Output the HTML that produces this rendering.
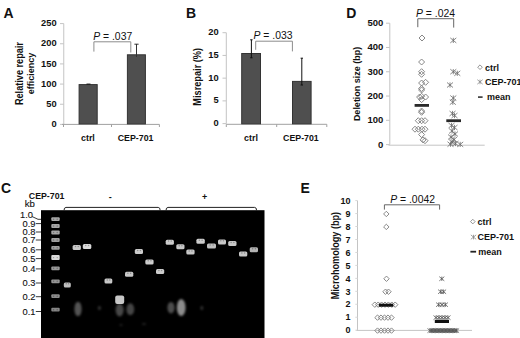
<!DOCTYPE html>
<html><head><meta charset="utf-8"><style>
html,body{margin:0;padding:0;background:#fff;width:520px;height:338px;overflow:hidden}
svg{display:block;font-family:"Liberation Sans",sans-serif}
</style></head><body>
<svg width="520" height="338" viewBox="0 0 520 338">
<defs>
<filter id="blur" x="-50%" y="-50%" width="200%" height="200%"><feGaussianBlur stdDeviation="0.7"/></filter>
<filter id="blur2" x="-100%" y="-100%" width="300%" height="300%"><feGaussianBlur stdDeviation="1.2"/></filter>
</defs>
<text transform="translate(3.5,17.6) scale(1,1.1)" font-size="14" font-weight="bold" text-anchor="start" fill="#111" >A</text>
<line x1="63.75" y1="23.6" x2="63.75" y2="124.4" stroke="#c4c4c4" stroke-width="1"/>
<line x1="60" y1="124.4" x2="63.75" y2="124.4" stroke="#c4c4c4" stroke-width="1"/>
<text transform="translate(56.6,127.0) scale(1,1.0)" font-size="9.3" font-weight="bold" text-anchor="end" fill="#111" >0</text>
<line x1="60" y1="104.24000000000001" x2="63.75" y2="104.24000000000001" stroke="#c4c4c4" stroke-width="1"/>
<text transform="translate(56.6,106.84) scale(1,1.0)" font-size="9.3" font-weight="bold" text-anchor="end" fill="#111" >50</text>
<line x1="60" y1="84.08" x2="63.75" y2="84.08" stroke="#c4c4c4" stroke-width="1"/>
<text transform="translate(56.6,86.67999999999999) scale(1,1.0)" font-size="9.3" font-weight="bold" text-anchor="end" fill="#111" >100</text>
<line x1="60" y1="63.919999999999995" x2="63.75" y2="63.919999999999995" stroke="#c4c4c4" stroke-width="1"/>
<text transform="translate(56.6,66.52) scale(1,1.0)" font-size="9.3" font-weight="bold" text-anchor="end" fill="#111" >150</text>
<line x1="60" y1="43.75999999999999" x2="63.75" y2="43.75999999999999" stroke="#c4c4c4" stroke-width="1"/>
<text transform="translate(56.6,46.35999999999999) scale(1,1.0)" font-size="9.3" font-weight="bold" text-anchor="end" fill="#111" >200</text>
<line x1="60" y1="23.599999999999994" x2="63.75" y2="23.599999999999994" stroke="#c4c4c4" stroke-width="1"/>
<text transform="translate(56.6,26.199999999999996) scale(1,1.0)" font-size="9.3" font-weight="bold" text-anchor="end" fill="#111" >250</text>
<line x1="62" y1="124.4" x2="159.4" y2="124.4" stroke="#a0a0a0" stroke-width="1"/>
<line x1="63.5" y1="124.4" x2="63.5" y2="127" stroke="#a0a0a0" stroke-width="1"/>
<line x1="111.5" y1="124.4" x2="111.5" y2="127" stroke="#a0a0a0" stroke-width="1"/>
<line x1="159.4" y1="124.4" x2="159.4" y2="127" stroke="#a0a0a0" stroke-width="1"/>
<rect x="79.1" y="84.6" width="18.1" height="39.30000000000001" fill="#4f4f4f" stroke="#333" stroke-width="1"/>
<line x1="86.5" y1="84.1" x2="90.5" y2="84.1" stroke="#111" stroke-width="1"/>
<rect x="127.4" y="54.8" width="18.0" height="69.10000000000001" fill="#4f4f4f" stroke="#333" stroke-width="1"/>
<line x1="136.5" y1="44" x2="136.5" y2="57" stroke="#333" stroke-width="1"/>
<line x1="134.4" y1="44.2" x2="138.6" y2="44.2" stroke="#333" stroke-width="1"/>
<path d="M93.9 51.6 V41.8 H130.8 V52.5" fill="none" stroke="#8c8c8c" stroke-width="1"/>
<text transform="translate(93.2,39.5) scale(1,1.0)" font-size="10.4" fill="#111" ><tspan font-style="italic">P</tspan> = .037</text>
<text transform="translate(87.9,141.0) scale(1,1.0)" font-size="8.9" font-weight="bold" text-anchor="middle" fill="#111" >ctrl</text>
<text transform="translate(135.6,141.0) scale(1,1.0)" font-size="8.8" font-weight="bold" text-anchor="middle" fill="#111" >CEP-701</text>
<text x="0" y="0" font-size="9.15" font-weight="bold" text-anchor="middle" fill="#111" transform="translate(22.6,73.6) rotate(-90) scale(1,1.1)">Relative repair</text>
<text x="0" y="0" font-size="9" font-weight="bold" text-anchor="middle" fill="#111" transform="translate(33.6,73.5) rotate(-90) scale(1,1.1)">efficiency</text>
<text transform="translate(186.0,18.3) scale(1,1.1)" font-size="14" font-weight="bold" text-anchor="start" fill="#111" >B</text>
<line x1="226.3" y1="32.7" x2="226.3" y2="123.6" stroke="#c4c4c4" stroke-width="1"/>
<line x1="222.5" y1="123.6" x2="226.3" y2="123.6" stroke="#c4c4c4" stroke-width="1"/>
<text transform="translate(218.7,126.19999999999999) scale(1,1.0)" font-size="9.3" font-weight="bold" text-anchor="end" fill="#111" >0</text>
<line x1="222.5" y1="100.875" x2="226.3" y2="100.875" stroke="#c4c4c4" stroke-width="1"/>
<text transform="translate(218.7,103.475) scale(1,1.0)" font-size="9.3" font-weight="bold" text-anchor="end" fill="#111" >5</text>
<line x1="222.5" y1="78.15" x2="226.3" y2="78.15" stroke="#c4c4c4" stroke-width="1"/>
<text transform="translate(218.7,80.75) scale(1,1.0)" font-size="9.3" font-weight="bold" text-anchor="end" fill="#111" >10</text>
<line x1="222.5" y1="55.425" x2="226.3" y2="55.425" stroke="#c4c4c4" stroke-width="1"/>
<text transform="translate(218.7,58.025) scale(1,1.0)" font-size="9.3" font-weight="bold" text-anchor="end" fill="#111" >15</text>
<line x1="222.5" y1="32.7" x2="226.3" y2="32.7" stroke="#c4c4c4" stroke-width="1"/>
<text transform="translate(218.7,35.300000000000004) scale(1,1.0)" font-size="9.3" font-weight="bold" text-anchor="end" fill="#111" >20</text>
<line x1="226.3" y1="124.3" x2="326.8" y2="124.3" stroke="#a0a0a0" stroke-width="1"/>
<line x1="226.3" y1="124.3" x2="226.3" y2="127" stroke="#a0a0a0" stroke-width="1"/>
<line x1="276.7" y1="124.3" x2="276.7" y2="127" stroke="#a0a0a0" stroke-width="1"/>
<line x1="326.8" y1="124.3" x2="326.8" y2="127" stroke="#a0a0a0" stroke-width="1"/>
<rect x="241.7" y="53.5" width="18.8" height="70.3" fill="#4f4f4f" stroke="#333" stroke-width="1"/>
<rect x="292.5" y="81.4" width="18.6" height="42.39999999999999" fill="#4f4f4f" stroke="#333" stroke-width="1"/>
<line x1="251.4" y1="39.8" x2="251.4" y2="57.8" stroke="#111" stroke-width="1"/>
<line x1="250.2" y1="39.8" x2="252.6" y2="39.8" stroke="#111" stroke-width="1"/>
<line x1="250.2" y1="57.8" x2="252.6" y2="57.8" stroke="#111" stroke-width="1"/>
<line x1="301.8" y1="58.2" x2="301.8" y2="85" stroke="#111" stroke-width="1"/>
<line x1="300.6" y1="58.2" x2="303.0" y2="58.2" stroke="#111" stroke-width="1"/>
<line x1="300.6" y1="85" x2="303.0" y2="85" stroke="#111" stroke-width="1"/>
<path d="M255.7 49.8 V41.2 H292.4 V51.4" fill="none" stroke="#8c8c8c" stroke-width="1"/>
<text transform="translate(253.5,39.0) scale(1,1.0)" font-size="10.4" fill="#111" ><tspan font-style="italic">P</tspan> = .033</text>
<text transform="translate(251.0,141.1) scale(1,1.0)" font-size="8.9" font-weight="bold" text-anchor="middle" fill="#111" >ctrl</text>
<text transform="translate(300.9,141.1) scale(1,1.0)" font-size="8.8" font-weight="bold" text-anchor="middle" fill="#111" >CEP-701</text>
<text x="0" y="0" font-size="9.2" font-weight="bold" text-anchor="middle" fill="#111" transform="translate(200.5,76.8) rotate(-90) scale(1,1.1)">Misrepair (%)</text>
<text transform="translate(346.3,17.8) scale(1,1.1)" font-size="14" font-weight="bold" text-anchor="start" fill="#111" >D</text>
<line x1="389.8" y1="23.2" x2="389.8" y2="144.6" stroke="#c4c4c4" stroke-width="1"/>
<line x1="386" y1="144.6" x2="389.8" y2="144.6" stroke="#c4c4c4" stroke-width="1"/>
<text transform="translate(383.3,147.5) scale(1,1.0)" font-size="9.5" font-weight="bold" text-anchor="end" fill="#111" >0</text>
<line x1="386" y1="120.32" x2="389.8" y2="120.32" stroke="#c4c4c4" stroke-width="1"/>
<text transform="translate(383.3,123.22) scale(1,1.0)" font-size="9.5" font-weight="bold" text-anchor="end" fill="#111" >100</text>
<line x1="386" y1="96.03999999999999" x2="389.8" y2="96.03999999999999" stroke="#c4c4c4" stroke-width="1"/>
<text transform="translate(383.3,98.94) scale(1,1.0)" font-size="9.5" font-weight="bold" text-anchor="end" fill="#111" >200</text>
<line x1="386" y1="71.76" x2="389.8" y2="71.76" stroke="#c4c4c4" stroke-width="1"/>
<text transform="translate(383.3,74.66000000000001) scale(1,1.0)" font-size="9.5" font-weight="bold" text-anchor="end" fill="#111" >300</text>
<line x1="386" y1="47.480000000000004" x2="389.8" y2="47.480000000000004" stroke="#c4c4c4" stroke-width="1"/>
<text transform="translate(383.3,50.38) scale(1,1.0)" font-size="9.5" font-weight="bold" text-anchor="end" fill="#111" >400</text>
<line x1="386" y1="23.200000000000003" x2="389.8" y2="23.200000000000003" stroke="#c4c4c4" stroke-width="1"/>
<text transform="translate(383.3,26.1) scale(1,1.0)" font-size="9.5" font-weight="bold" text-anchor="end" fill="#111" >500</text>
<line x1="388.5" y1="145.2" x2="484.7" y2="145.2" stroke="#c4c4c4" stroke-width="1"/>
<path d="M417.8 27.2 V18.7 H453.7 V27.6" fill="none" stroke="#666" stroke-width="1"/>
<text transform="translate(416.0,17.2) scale(1,1.0)" font-size="10.4" fill="#111" ><tspan font-style="italic">P</tspan> = .024</text>
<text x="0" y="0" font-size="9.0" font-weight="bold" text-anchor="middle" fill="#111" transform="translate(360.3,83.9) rotate(-90) scale(1,1.1)">Deletion size (bp)</text>
<path d="M422 35.0 L425.0 38 L422 41.0 L419.0 38 Z" fill="none" stroke="#7a7a7a" stroke-width="0.9"/>
<path d="M421.6 59.0 L424.6 62 L421.6 65.0 L418.6 62 Z" fill="none" stroke="#7a7a7a" stroke-width="0.9"/>
<path d="M421.6 68.7 L424.6 71.7 L421.6 74.7 L418.6 71.7 Z" fill="none" stroke="#7a7a7a" stroke-width="0.9"/>
<path d="M421.6 71.3 L424.6 74.3 L421.6 77.3 L418.6 74.3 Z" fill="none" stroke="#7a7a7a" stroke-width="0.9"/>
<path d="M421.6 80.0 L424.6 83 L421.6 86.0 L418.6 83 Z" fill="none" stroke="#7a7a7a" stroke-width="0.9"/>
<path d="M425.6 79.3 L428.6 82.3 L425.6 85.3 L422.6 82.3 Z" fill="none" stroke="#7a7a7a" stroke-width="0.9"/>
<path d="M421.6 85.5 L424.6 88.5 L421.6 91.5 L418.6 88.5 Z" fill="none" stroke="#7a7a7a" stroke-width="0.9"/>
<path d="M421.6 87.0 L424.6 90 L421.6 93.0 L418.6 90 Z" fill="none" stroke="#7a7a7a" stroke-width="0.9"/>
<path d="M419.6 94.0 L422.6 97 L419.6 100.0 L416.6 97 Z" fill="none" stroke="#7a7a7a" stroke-width="0.9"/>
<path d="M425.6 94.0 L428.6 97 L425.6 100.0 L422.6 97 Z" fill="none" stroke="#7a7a7a" stroke-width="0.9"/>
<path d="M421.6 93.3 L424.6 96.3 L421.6 99.3 L418.6 96.3 Z" fill="none" stroke="#7a7a7a" stroke-width="0.9"/>
<path d="M421.6 96.6 L424.6 99.6 L421.6 102.6 L418.6 99.6 Z" fill="none" stroke="#7a7a7a" stroke-width="0.9"/>
<path d="M421.6 108.0 L424.6 111 L421.6 114.0 L418.6 111 Z" fill="none" stroke="#7a7a7a" stroke-width="0.9"/>
<path d="M421.6 109.3 L424.6 112.3 L421.6 115.3 L418.6 112.3 Z" fill="none" stroke="#7a7a7a" stroke-width="0.9"/>
<path d="M418.3 117.7 L421.3 120.7 L418.3 123.7 L415.3 120.7 Z" fill="none" stroke="#7a7a7a" stroke-width="0.9"/>
<path d="M421.6 117.7 L424.6 120.7 L421.6 123.7 L418.6 120.7 Z" fill="none" stroke="#7a7a7a" stroke-width="0.9"/>
<path d="M425 117.7 L428.0 120.7 L425 123.7 L422.0 120.7 Z" fill="none" stroke="#7a7a7a" stroke-width="0.9"/>
<path d="M415 126.19999999999999 L418.0 129.2 L415 132.2 L412.0 129.2 Z" fill="none" stroke="#7a7a7a" stroke-width="0.9"/>
<path d="M418.3 126.19999999999999 L421.3 129.2 L418.3 132.2 L415.3 129.2 Z" fill="none" stroke="#7a7a7a" stroke-width="0.9"/>
<path d="M422 126.19999999999999 L425.0 129.2 L422 132.2 L419.0 129.2 Z" fill="none" stroke="#7a7a7a" stroke-width="0.9"/>
<path d="M425 126.19999999999999 L428.0 129.2 L425 132.2 L422.0 129.2 Z" fill="none" stroke="#7a7a7a" stroke-width="0.9"/>
<path d="M421.6 131.6 L424.6 134.6 L421.6 137.6 L418.6 134.6 Z" fill="none" stroke="#7a7a7a" stroke-width="0.9"/>
<path d="M423 136.9 L426.0 139.9 L423 142.9 L420.0 139.9 Z" fill="none" stroke="#7a7a7a" stroke-width="0.9"/>
<path d="M425 137.7 L428.0 140.7 L425 143.7 L422.0 140.7 Z" fill="none" stroke="#7a7a7a" stroke-width="0.9"/>
<path d="M453.3 37.8 V43.0 M450.3 37.9 L456.3 42.9 M450.3 42.9 L456.3 37.9" stroke="#6a6a6a" stroke-width="0.8" fill="none"/>
<path d="M453.3 69.10000000000001 V74.3 M450.3 69.2 L456.3 74.2 M450.3 74.2 L456.3 69.2" stroke="#6a6a6a" stroke-width="0.8" fill="none"/>
<path d="M457.3 70.7 V75.89999999999999 M454.3 70.8 L460.3 75.8 M454.3 75.8 L460.3 70.8" stroke="#6a6a6a" stroke-width="0.8" fill="none"/>
<path d="M450 82.4 V87.6 M447.0 82.5 L453.0 87.5 M447.0 87.5 L453.0 82.5" stroke="#6a6a6a" stroke-width="0.8" fill="none"/>
<path d="M453.3 95.4 V100.6 M450.3 95.5 L456.3 100.5 M450.3 100.5 L456.3 95.5" stroke="#6a6a6a" stroke-width="0.8" fill="none"/>
<path d="M452.8 99.60000000000001 V104.8 M449.8 99.7 L455.8 104.7 M449.8 104.7 L455.8 99.7" stroke="#6a6a6a" stroke-width="0.8" fill="none"/>
<path d="M452.5 110.9 V116.1 M449.5 111.0 L455.5 116.0 M449.5 116.0 L455.5 111.0" stroke="#6a6a6a" stroke-width="0.8" fill="none"/>
<path d="M454.5 112.9 V118.1 M451.5 113.0 L457.5 118.0 M451.5 118.0 L457.5 113.0" stroke="#6a6a6a" stroke-width="0.8" fill="none"/>
<path d="M451.5 122.9 V128.1 M448.5 123.0 L454.5 128.0 M448.5 128.0 L454.5 123.0" stroke="#6a6a6a" stroke-width="0.8" fill="none"/>
<path d="M454.5 124.9 V130.1 M451.5 125.0 L457.5 130.0 M451.5 130.0 L457.5 125.0" stroke="#6a6a6a" stroke-width="0.8" fill="none"/>
<path d="M452 128.4 V133.6 M449.0 128.5 L455.0 133.5 M449.0 133.5 L455.0 128.5" stroke="#6a6a6a" stroke-width="0.8" fill="none"/>
<path d="M455 131.4 V136.6 M452.0 131.5 L458.0 136.5 M452.0 136.5 L458.0 131.5" stroke="#6a6a6a" stroke-width="0.8" fill="none"/>
<path d="M451 134.4 V139.6 M448.0 134.5 L454.0 139.5 M448.0 139.5 L454.0 134.5" stroke="#6a6a6a" stroke-width="0.8" fill="none"/>
<path d="M454 136.9 V142.1 M451.0 137.0 L457.0 142.0 M451.0 142.0 L457.0 137.0" stroke="#6a6a6a" stroke-width="0.8" fill="none"/>
<path d="M452 139.4 V144.6 M449.0 139.5 L455.0 144.5 M449.0 144.5 L455.0 139.5" stroke="#6a6a6a" stroke-width="0.8" fill="none"/>
<path d="M455.5 140.9 V146.1 M452.5 141.0 L458.5 146.0 M452.5 146.0 L458.5 141.0" stroke="#6a6a6a" stroke-width="0.8" fill="none"/>
<path d="M450.5 141.6 V146.79999999999998 M447.5 141.7 L453.5 146.7 M447.5 146.7 L453.5 141.7" stroke="#6a6a6a" stroke-width="0.8" fill="none"/>
<path d="M460.2 141.8 V147.0 M457.2 141.9 L463.2 146.9 M457.2 146.9 L463.2 141.9" stroke="#6a6a6a" stroke-width="0.8" fill="none"/>
<rect x="414.6" y="104.0" width="14.4" height="2.8" fill="#2a2a2a"/>
<rect x="446.3" y="119.3" width="14.7" height="2.8" fill="#2a2a2a"/>
<path d="M480 64.9 L482.3 67.2 L480 69.5 L477.7 67.2 Z" fill="none" stroke="#888" stroke-width="0.9"/>
<text transform="translate(484.9,71.0) scale(1,1.0)" font-size="9" font-weight="bold" text-anchor="start" fill="#111" >ctrl</text>
<path d="M480 79.58888888888889 V84.21111111111112 M477.3333333333333 79.67777777777778 L482.6666666666667 84.12222222222223 M477.3333333333333 84.12222222222223 L482.6666666666667 79.67777777777778" stroke="#888" stroke-width="0.8" fill="none"/>
<text transform="translate(484.9,85.1) scale(1,1.0)" font-size="9" font-weight="bold" text-anchor="start" fill="#111" >CEP-701</text>
<rect x="478" y="96.3" width="4.6" height="1.6" fill="#333"/>
<text transform="translate(487,99.8) scale(1,1.0)" font-size="9" font-weight="bold" text-anchor="start" fill="#111" >mean</text>
<text transform="translate(300.59999999999997,192.8) scale(1,1.1)" font-size="14" font-weight="bold" text-anchor="start" fill="#111" >E</text>
<line x1="357.5" y1="200.6" x2="357.5" y2="330.2" stroke="#c4c4c4" stroke-width="1"/>
<line x1="355.3" y1="330.2" x2="357.5" y2="330.2" stroke="#d8d8d8" stroke-width="1"/>
<text transform="translate(350.6,333.4) scale(1,1.0)" font-size="9" font-weight="bold" text-anchor="end" fill="#111" >0</text>
<line x1="355.3" y1="317.24" x2="357.5" y2="317.24" stroke="#d8d8d8" stroke-width="1"/>
<text transform="translate(350.6,320.44) scale(1,1.0)" font-size="9" font-weight="bold" text-anchor="end" fill="#111" >1</text>
<line x1="355.3" y1="304.28" x2="357.5" y2="304.28" stroke="#d8d8d8" stroke-width="1"/>
<text transform="translate(350.6,307.47999999999996) scale(1,1.0)" font-size="9" font-weight="bold" text-anchor="end" fill="#111" >2</text>
<line x1="355.3" y1="291.32" x2="357.5" y2="291.32" stroke="#d8d8d8" stroke-width="1"/>
<text transform="translate(350.6,294.52) scale(1,1.0)" font-size="9" font-weight="bold" text-anchor="end" fill="#111" >3</text>
<line x1="355.3" y1="278.36" x2="357.5" y2="278.36" stroke="#d8d8d8" stroke-width="1"/>
<text transform="translate(350.6,281.56) scale(1,1.0)" font-size="9" font-weight="bold" text-anchor="end" fill="#111" >4</text>
<line x1="355.3" y1="265.4" x2="357.5" y2="265.4" stroke="#d8d8d8" stroke-width="1"/>
<text transform="translate(350.6,268.59999999999997) scale(1,1.0)" font-size="9" font-weight="bold" text-anchor="end" fill="#111" >5</text>
<line x1="355.3" y1="252.44" x2="357.5" y2="252.44" stroke="#d8d8d8" stroke-width="1"/>
<text transform="translate(350.6,255.64) scale(1,1.0)" font-size="9" font-weight="bold" text-anchor="end" fill="#111" >6</text>
<line x1="355.3" y1="239.48" x2="357.5" y2="239.48" stroke="#d8d8d8" stroke-width="1"/>
<text transform="translate(350.6,242.67999999999998) scale(1,1.0)" font-size="9" font-weight="bold" text-anchor="end" fill="#111" >7</text>
<line x1="355.3" y1="226.51999999999998" x2="357.5" y2="226.51999999999998" stroke="#d8d8d8" stroke-width="1"/>
<text transform="translate(350.6,229.71999999999997) scale(1,1.0)" font-size="9" font-weight="bold" text-anchor="end" fill="#111" >8</text>
<line x1="355.3" y1="213.56" x2="357.5" y2="213.56" stroke="#d8d8d8" stroke-width="1"/>
<text transform="translate(350.6,216.76) scale(1,1.0)" font-size="9" font-weight="bold" text-anchor="end" fill="#111" >9</text>
<line x1="355.3" y1="200.6" x2="357.5" y2="200.6" stroke="#d8d8d8" stroke-width="1"/>
<text transform="translate(350.6,203.79999999999998) scale(1,1.0)" font-size="9" font-weight="bold" text-anchor="end" fill="#111" >10</text>
<line x1="356.5" y1="330.4" x2="472" y2="330.4" stroke="#c4c4c4" stroke-width="1"/>
<path d="M384.4 209.6 V204.8 H439.6 V209.6" fill="none" stroke="#666" stroke-width="1"/>
<text transform="translate(390.2,203.3) scale(1,1.0)" font-size="10.4" fill="#111" ><tspan font-style="italic">P</tspan> = .0042</text>
<text x="0" y="0" font-size="9.1" font-weight="bold" text-anchor="middle" fill="#111" transform="translate(338.8,255.6) rotate(-90) scale(1,1.1)">Microhomology (bp)</text>
<path d="M386.3 211.26000000000002 L389.0 213.96 L386.3 216.66 L383.6 213.96 Z" fill="none" stroke="#7a7a7a" stroke-width="0.9"/>
<path d="M386.3 224.22000000000003 L389.0 226.92000000000002 L386.3 229.62 L383.6 226.92000000000002 Z" fill="none" stroke="#7a7a7a" stroke-width="0.9"/>
<path d="M386.5 276.06 L389.2 278.76 L386.5 281.46 L383.8 278.76 Z" fill="none" stroke="#7a7a7a" stroke-width="0.9"/>
<path d="M385.5 289.02000000000004 L388.2 291.72 L385.5 294.42 L382.8 291.72 Z" fill="none" stroke="#7a7a7a" stroke-width="0.9"/>
<path d="M388.5 289.02000000000004 L391.2 291.72 L388.5 294.42 L385.8 291.72 Z" fill="none" stroke="#7a7a7a" stroke-width="0.9"/>
<path d="M374.8 301.98 L377.5 304.68 L374.8 307.38 L372.1 304.68 Z" fill="none" stroke="#7a7a7a" stroke-width="0.9"/>
<path d="M378.2 301.98 L380.9 304.68 L378.2 307.38 L375.5 304.68 Z" fill="none" stroke="#7a7a7a" stroke-width="0.9"/>
<path d="M381.6 301.98 L384.3 304.68 L381.6 307.38 L378.90000000000003 304.68 Z" fill="none" stroke="#7a7a7a" stroke-width="0.9"/>
<path d="M385 301.98 L387.7 304.68 L385 307.38 L382.3 304.68 Z" fill="none" stroke="#7a7a7a" stroke-width="0.9"/>
<path d="M388.4 301.98 L391.09999999999997 304.68 L388.4 307.38 L385.7 304.68 Z" fill="none" stroke="#7a7a7a" stroke-width="0.9"/>
<path d="M391.8 301.98 L394.5 304.68 L391.8 307.38 L389.1 304.68 Z" fill="none" stroke="#7a7a7a" stroke-width="0.9"/>
<path d="M395.2 301.98 L397.9 304.68 L395.2 307.38 L392.5 304.68 Z" fill="none" stroke="#7a7a7a" stroke-width="0.9"/>
<path d="M377.5 314.94000000000005 L380.2 317.64000000000004 L377.5 320.34000000000003 L374.8 317.64000000000004 Z" fill="none" stroke="#7a7a7a" stroke-width="0.9"/>
<path d="M381 314.94000000000005 L383.7 317.64000000000004 L381 320.34000000000003 L378.3 317.64000000000004 Z" fill="none" stroke="#7a7a7a" stroke-width="0.9"/>
<path d="M384.5 314.94000000000005 L387.2 317.64000000000004 L384.5 320.34000000000003 L381.8 317.64000000000004 Z" fill="none" stroke="#7a7a7a" stroke-width="0.9"/>
<path d="M388 314.94000000000005 L390.7 317.64000000000004 L388 320.34000000000003 L385.3 317.64000000000004 Z" fill="none" stroke="#7a7a7a" stroke-width="0.9"/>
<path d="M391.5 314.94000000000005 L394.2 317.64000000000004 L391.5 320.34000000000003 L388.8 317.64000000000004 Z" fill="none" stroke="#7a7a7a" stroke-width="0.9"/>
<path d="M377.5 327.90000000000003 L380.2 330.6 L377.5 333.3 L374.8 330.6 Z" fill="none" stroke="#7a7a7a" stroke-width="0.9"/>
<path d="M381 327.90000000000003 L383.7 330.6 L381 333.3 L378.3 330.6 Z" fill="none" stroke="#7a7a7a" stroke-width="0.9"/>
<path d="M384.5 327.90000000000003 L387.2 330.6 L384.5 333.3 L381.8 330.6 Z" fill="none" stroke="#7a7a7a" stroke-width="0.9"/>
<path d="M388 327.90000000000003 L390.7 330.6 L388 333.3 L385.3 330.6 Z" fill="none" stroke="#7a7a7a" stroke-width="0.9"/>
<path d="M391.5 327.90000000000003 L394.2 330.6 L391.5 333.3 L388.8 330.6 Z" fill="none" stroke="#7a7a7a" stroke-width="0.9"/>
<path d="M441.8 276.5933333333333 V280.9266666666667 M439.3 276.6766666666667 L444.3 280.8433333333333 M439.3 280.8433333333333 L444.3 276.6766666666667" stroke="#555" stroke-width="0.8" fill="none"/>
<path d="M440.6 289.55333333333334 V293.8866666666667 M438.1 289.6366666666667 L443.1 293.80333333333334 M438.1 293.80333333333334 L443.1 289.6366666666667" stroke="#555" stroke-width="0.8" fill="none"/>
<path d="M443.6 289.55333333333334 V293.8866666666667 M441.1 289.6366666666667 L446.1 293.80333333333334 M441.1 293.80333333333334 L446.1 289.6366666666667" stroke="#555" stroke-width="0.8" fill="none"/>
<path d="M438.6 302.5133333333333 V306.8466666666667 M436.1 302.5966666666667 L441.1 306.7633333333333 M436.1 306.7633333333333 L441.1 302.5966666666667" stroke="#555" stroke-width="0.8" fill="none"/>
<path d="M442 302.5133333333333 V306.8466666666667 M439.5 302.5966666666667 L444.5 306.7633333333333 M439.5 306.7633333333333 L444.5 302.5966666666667" stroke="#555" stroke-width="0.8" fill="none"/>
<path d="M445.4 302.5133333333333 V306.8466666666667 M442.9 302.5966666666667 L447.9 306.7633333333333 M442.9 306.7633333333333 L447.9 302.5966666666667" stroke="#555" stroke-width="0.8" fill="none"/>
<path d="M436 315.47333333333336 V319.80666666666673 M433.5 315.55666666666673 L438.5 319.72333333333336 M433.5 319.72333333333336 L438.5 315.55666666666673" stroke="#555" stroke-width="0.8" fill="none"/>
<path d="M439 315.47333333333336 V319.80666666666673 M436.5 315.55666666666673 L441.5 319.72333333333336 M436.5 319.72333333333336 L441.5 315.55666666666673" stroke="#555" stroke-width="0.8" fill="none"/>
<path d="M442 315.47333333333336 V319.80666666666673 M439.5 315.55666666666673 L444.5 319.72333333333336 M439.5 319.72333333333336 L444.5 315.55666666666673" stroke="#555" stroke-width="0.8" fill="none"/>
<path d="M445 315.47333333333336 V319.80666666666673 M442.5 315.55666666666673 L447.5 319.72333333333336 M442.5 319.72333333333336 L447.5 315.55666666666673" stroke="#555" stroke-width="0.8" fill="none"/>
<path d="M448 315.47333333333336 V319.80666666666673 M445.5 315.55666666666673 L450.5 319.72333333333336 M445.5 319.72333333333336 L450.5 315.55666666666673" stroke="#555" stroke-width="0.8" fill="none"/>
<path d="M430.0 328.43333333333334 V332.7666666666667 M427.5 328.5166666666667 L432.5 332.68333333333334 M427.5 332.68333333333334 L432.5 328.5166666666667" stroke="#555" stroke-width="0.8" fill="none"/>
<path d="M431.4 328.43333333333334 V332.7666666666667 M428.9 328.5166666666667 L433.9 332.68333333333334 M428.9 332.68333333333334 L433.9 328.5166666666667" stroke="#555" stroke-width="0.8" fill="none"/>
<path d="M432.8 328.43333333333334 V332.7666666666667 M430.3 328.5166666666667 L435.3 332.68333333333334 M430.3 332.68333333333334 L435.3 328.5166666666667" stroke="#555" stroke-width="0.8" fill="none"/>
<path d="M434.2 328.43333333333334 V332.7666666666667 M431.7 328.5166666666667 L436.7 332.68333333333334 M431.7 332.68333333333334 L436.7 328.5166666666667" stroke="#555" stroke-width="0.8" fill="none"/>
<path d="M435.6 328.43333333333334 V332.7666666666667 M433.1 328.5166666666667 L438.1 332.68333333333334 M433.1 332.68333333333334 L438.1 328.5166666666667" stroke="#555" stroke-width="0.8" fill="none"/>
<path d="M437.0 328.43333333333334 V332.7666666666667 M434.5 328.5166666666667 L439.5 332.68333333333334 M434.5 332.68333333333334 L439.5 328.5166666666667" stroke="#555" stroke-width="0.8" fill="none"/>
<path d="M438.4 328.43333333333334 V332.7666666666667 M435.9 328.5166666666667 L440.9 332.68333333333334 M435.9 332.68333333333334 L440.9 328.5166666666667" stroke="#555" stroke-width="0.8" fill="none"/>
<path d="M439.8 328.43333333333334 V332.7666666666667 M437.3 328.5166666666667 L442.3 332.68333333333334 M437.3 332.68333333333334 L442.3 328.5166666666667" stroke="#555" stroke-width="0.8" fill="none"/>
<path d="M441.2 328.43333333333334 V332.7666666666667 M438.7 328.5166666666667 L443.7 332.68333333333334 M438.7 332.68333333333334 L443.7 328.5166666666667" stroke="#555" stroke-width="0.8" fill="none"/>
<path d="M442.6 328.43333333333334 V332.7666666666667 M440.1 328.5166666666667 L445.1 332.68333333333334 M440.1 332.68333333333334 L445.1 328.5166666666667" stroke="#555" stroke-width="0.8" fill="none"/>
<path d="M444.0 328.43333333333334 V332.7666666666667 M441.5 328.5166666666667 L446.5 332.68333333333334 M441.5 332.68333333333334 L446.5 328.5166666666667" stroke="#555" stroke-width="0.8" fill="none"/>
<path d="M445.4 328.43333333333334 V332.7666666666667 M442.9 328.5166666666667 L447.9 332.68333333333334 M442.9 332.68333333333334 L447.9 328.5166666666667" stroke="#555" stroke-width="0.8" fill="none"/>
<path d="M446.8 328.43333333333334 V332.7666666666667 M444.3 328.5166666666667 L449.3 332.68333333333334 M444.3 332.68333333333334 L449.3 328.5166666666667" stroke="#555" stroke-width="0.8" fill="none"/>
<path d="M448.2 328.43333333333334 V332.7666666666667 M445.7 328.5166666666667 L450.7 332.68333333333334 M445.7 332.68333333333334 L450.7 328.5166666666667" stroke="#555" stroke-width="0.8" fill="none"/>
<path d="M449.6 328.43333333333334 V332.7666666666667 M447.1 328.5166666666667 L452.1 332.68333333333334 M447.1 332.68333333333334 L452.1 328.5166666666667" stroke="#555" stroke-width="0.8" fill="none"/>
<path d="M451.0 328.43333333333334 V332.7666666666667 M448.5 328.5166666666667 L453.5 332.68333333333334 M448.5 332.68333333333334 L453.5 328.5166666666667" stroke="#555" stroke-width="0.8" fill="none"/>
<path d="M452.4 328.43333333333334 V332.7666666666667 M449.9 328.5166666666667 L454.9 332.68333333333334 M449.9 332.68333333333334 L454.9 328.5166666666667" stroke="#555" stroke-width="0.8" fill="none"/>
<path d="M453.8 328.43333333333334 V332.7666666666667 M451.3 328.5166666666667 L456.3 332.68333333333334 M451.3 332.68333333333334 L456.3 328.5166666666667" stroke="#555" stroke-width="0.8" fill="none"/>
<path d="M455.2 328.43333333333334 V332.7666666666667 M452.7 328.5166666666667 L457.7 332.68333333333334 M452.7 332.68333333333334 L457.7 328.5166666666667" stroke="#555" stroke-width="0.8" fill="none"/>
<path d="M456.6 328.43333333333334 V332.7666666666667 M454.1 328.5166666666667 L459.1 332.68333333333334 M454.1 332.68333333333334 L459.1 328.5166666666667" stroke="#555" stroke-width="0.8" fill="none"/>
<rect x="378.8" y="303.7" width="14.4" height="3" fill="#111"/>
<rect x="434.8" y="320.0" width="14.2" height="3" fill="#111"/>
<path d="M472.8 219.29999999999998 L475.1 221.6 L472.8 223.9 L470.5 221.6 Z" fill="none" stroke="#888" stroke-width="0.9"/>
<text transform="translate(477.6,225.0) scale(1,1.0)" font-size="9" font-weight="bold" text-anchor="start" fill="#111" >ctrl</text>
<path d="M473.5 234.7888888888889 V239.4111111111111 M470.8333333333333 234.87777777777777 L476.1666666666667 239.32222222222222 M470.8333333333333 239.32222222222222 L476.1666666666667 234.87777777777777" stroke="#888" stroke-width="0.8" fill="none"/>
<text transform="translate(477.6,240.2) scale(1,1.0)" font-size="9" font-weight="bold" text-anchor="start" fill="#111" >CEP-701</text>
<rect x="470.4" y="250.8" width="5.7" height="1.8" fill="#222"/>
<text transform="translate(478.2,254.7) scale(1,1.0)" font-size="9" font-weight="bold" text-anchor="start" fill="#111" >mean</text>
<text transform="translate(1.0,192.6) scale(1,1.1)" font-size="14" font-weight="bold" text-anchor="start" fill="#111" >C</text>
<text transform="translate(28.8,199.2) scale(1,1.08)" font-size="8.8" font-weight="bold" text-anchor="start" fill="#111" >CEP-701</text>
<text transform="translate(24.8,207.0) scale(1,1.0)" font-size="9.6" font-weight="normal" text-anchor="start" fill="#111" stroke="#111" stroke-width="0.12">kb</text>
<rect x="41" y="210.2" width="223.5" height="128" fill="#000"/>
<path d="M64 210.5 Q64 207.4 66 207.4 H158.2 Q160.2 207.4 160.2 210.5" fill="none" stroke="#222" stroke-width="1"/>
<path d="M166 210.5 Q166 207.4 168 207.4 H254.6 Q256.6 207.4 256.6 210.5" fill="none" stroke="#222" stroke-width="1"/>
<text transform="translate(110.2,199.5) scale(1,1.0)" font-size="9" font-weight="bold" text-anchor="middle" fill="#111" >-</text>
<text transform="translate(204.6,199.8) scale(1,1.0)" font-size="9" font-weight="bold" text-anchor="middle" fill="#111" >+</text>
<text transform="translate(33,217.5) scale(1,1.0)" font-size="9.3" font-weight="normal" text-anchor="end" fill="#111" stroke="#111" stroke-width="0.12">1.0</text>
<text transform="translate(35.4,226.9) scale(1,1.0)" font-size="9.3" font-weight="normal" text-anchor="end" fill="#111" stroke="#111" stroke-width="0.12">0.9</text>
<line x1="35.8" y1="223.6" x2="41" y2="223.6" stroke="#222" stroke-width="0.9"/>
<text transform="translate(35.4,235.3) scale(1,1.0)" font-size="9.3" font-weight="normal" text-anchor="end" fill="#111" stroke="#111" stroke-width="0.12">0.8</text>
<line x1="35.8" y1="232" x2="41" y2="232" stroke="#222" stroke-width="0.9"/>
<text transform="translate(35.4,243.3) scale(1,1.0)" font-size="9.3" font-weight="normal" text-anchor="end" fill="#111" stroke="#111" stroke-width="0.12">0.7</text>
<line x1="35.8" y1="240" x2="41" y2="240" stroke="#222" stroke-width="0.9"/>
<text transform="translate(35.4,253.10000000000002) scale(1,1.0)" font-size="9.3" font-weight="normal" text-anchor="end" fill="#111" stroke="#111" stroke-width="0.12">0.6</text>
<line x1="35.8" y1="249.8" x2="41" y2="249.8" stroke="#222" stroke-width="0.9"/>
<text transform="translate(35.4,261.90000000000003) scale(1,1.0)" font-size="9.3" font-weight="normal" text-anchor="end" fill="#111" stroke="#111" stroke-width="0.12">0.5</text>
<line x1="35.8" y1="258.6" x2="41" y2="258.6" stroke="#222" stroke-width="0.9"/>
<text transform="translate(35.4,272.2) scale(1,1.0)" font-size="9.3" font-weight="normal" text-anchor="end" fill="#111" stroke="#111" stroke-width="0.12">0.4</text>
<line x1="35.8" y1="268.9" x2="41" y2="268.9" stroke="#222" stroke-width="0.9"/>
<text transform="translate(35.4,286.3) scale(1,1.0)" font-size="9.3" font-weight="normal" text-anchor="end" fill="#111" stroke="#111" stroke-width="0.12">0.3</text>
<line x1="35.8" y1="283" x2="41" y2="283" stroke="#222" stroke-width="0.9"/>
<text transform="translate(35.4,300.0) scale(1,1.0)" font-size="9.3" font-weight="normal" text-anchor="end" fill="#111" stroke="#111" stroke-width="0.12">0.2</text>
<line x1="35.8" y1="296.7" x2="41" y2="296.7" stroke="#222" stroke-width="0.9"/>
<text transform="translate(35.4,314.8) scale(1,1.0)" font-size="9.3" font-weight="normal" text-anchor="end" fill="#111" stroke="#111" stroke-width="0.12">0.1</text>
<line x1="35.8" y1="311.5" x2="41" y2="311.5" stroke="#222" stroke-width="0.9"/>
<path d="M32 216.5 L38 219.3 H41" fill="none" stroke="#222" stroke-width="0.9"/>
<rect x="51.3" y="217.29999999999998" width="8.4" height="3.8" rx="1" fill="#fff" fill-opacity="0.65" filter="url(#blur)"/>
<circle cx="53.6" cy="219.2" r="0.7" fill="#000" fill-opacity="0.3" filter="url(#blur)"/>
<circle cx="57.2" cy="219.2" r="0.7" fill="#000" fill-opacity="0.3" filter="url(#blur)"/>
<rect x="51.3" y="224.1" width="8.4" height="3.8" rx="1" fill="#fff" fill-opacity="0.65" filter="url(#blur)"/>
<circle cx="53.6" cy="226" r="0.7" fill="#000" fill-opacity="0.3" filter="url(#blur)"/>
<circle cx="57.2" cy="226" r="0.7" fill="#000" fill-opacity="0.3" filter="url(#blur)"/>
<rect x="51.3" y="230.6" width="8.4" height="3.8" rx="1" fill="#fff" fill-opacity="0.65" filter="url(#blur)"/>
<circle cx="53.6" cy="232.5" r="0.7" fill="#000" fill-opacity="0.3" filter="url(#blur)"/>
<circle cx="57.2" cy="232.5" r="0.7" fill="#000" fill-opacity="0.3" filter="url(#blur)"/>
<rect x="51.3" y="238.1" width="8.4" height="3.8" rx="1" fill="#fff" fill-opacity="0.62" filter="url(#blur)"/>
<circle cx="53.6" cy="240" r="0.7" fill="#000" fill-opacity="0.3" filter="url(#blur)"/>
<circle cx="57.2" cy="240" r="0.7" fill="#000" fill-opacity="0.3" filter="url(#blur)"/>
<rect x="51.3" y="245.9" width="8.4" height="3.8" rx="1" fill="#fff" fill-opacity="0.62" filter="url(#blur)"/>
<circle cx="53.6" cy="247.8" r="0.7" fill="#000" fill-opacity="0.3" filter="url(#blur)"/>
<circle cx="57.2" cy="247.8" r="0.7" fill="#000" fill-opacity="0.3" filter="url(#blur)"/>
<rect x="51.3" y="255.10000000000002" width="8.4" height="5.0" rx="1" fill="#fff" fill-opacity="0.85" filter="url(#blur)"/>
<circle cx="53.6" cy="257.6" r="0.7" fill="#000" fill-opacity="0.3" filter="url(#blur)"/>
<circle cx="57.2" cy="257.6" r="0.7" fill="#000" fill-opacity="0.3" filter="url(#blur)"/>
<rect x="51.3" y="266.40000000000003" width="8.4" height="3.8" rx="1" fill="#fff" fill-opacity="0.6" filter="url(#blur)"/>
<circle cx="53.6" cy="268.3" r="0.7" fill="#000" fill-opacity="0.3" filter="url(#blur)"/>
<circle cx="57.2" cy="268.3" r="0.7" fill="#000" fill-opacity="0.3" filter="url(#blur)"/>
<rect x="51.3" y="279.40000000000003" width="8.4" height="3.8" rx="1" fill="#fff" fill-opacity="0.58" filter="url(#blur)"/>
<circle cx="53.6" cy="281.3" r="0.7" fill="#000" fill-opacity="0.3" filter="url(#blur)"/>
<circle cx="57.2" cy="281.3" r="0.7" fill="#000" fill-opacity="0.3" filter="url(#blur)"/>
<rect x="51.3" y="294.3" width="8.4" height="3.8" rx="1" fill="#fff" fill-opacity="0.55" filter="url(#blur)"/>
<circle cx="53.6" cy="296.2" r="0.7" fill="#000" fill-opacity="0.3" filter="url(#blur)"/>
<circle cx="57.2" cy="296.2" r="0.7" fill="#000" fill-opacity="0.3" filter="url(#blur)"/>
<rect x="51.3" y="307.8" width="8.4" height="3.8" rx="1" fill="#fff" fill-opacity="0.52" filter="url(#blur)"/>
<circle cx="53.6" cy="309.7" r="0.7" fill="#000" fill-opacity="0.3" filter="url(#blur)"/>
<circle cx="57.2" cy="309.7" r="0.7" fill="#000" fill-opacity="0.3" filter="url(#blur)"/>
<rect x="63.8" y="282.4" width="7.0" height="5.0" rx="1.5" fill="#fff" fill-opacity="0.75" filter="url(#blur)"/>
<circle cx="66.25" cy="283.79999999999995" r="0.75" fill="#000" fill-opacity="0.3" filter="url(#blur)"/>
<circle cx="68.56" cy="283.79999999999995" r="0.75" fill="#000" fill-opacity="0.3" filter="url(#blur)"/>
<rect x="72.6" y="245.1" width="8.300000000000011" height="5.0" rx="1.5" fill="#fff" fill-opacity="0.78" filter="url(#blur)"/>
<circle cx="75.505" cy="246.5" r="0.75" fill="#000" fill-opacity="0.3" filter="url(#blur)"/>
<circle cx="78.244" cy="246.5" r="0.75" fill="#000" fill-opacity="0.3" filter="url(#blur)"/>
<rect x="82.8" y="244.1" width="8.5" height="5.0" rx="1.5" fill="#fff" fill-opacity="0.85" filter="url(#blur)"/>
<circle cx="85.77499999999999" cy="245.5" r="0.75" fill="#000" fill-opacity="0.3" filter="url(#blur)"/>
<circle cx="88.58" cy="245.5" r="0.75" fill="#000" fill-opacity="0.3" filter="url(#blur)"/>
<rect x="104.5" y="278.5" width="7.799999999999997" height="5.0" rx="1.5" fill="#fff" fill-opacity="0.78" filter="url(#blur)"/>
<circle cx="107.23" cy="279.9" r="0.75" fill="#000" fill-opacity="0.3" filter="url(#blur)"/>
<circle cx="109.804" cy="279.9" r="0.75" fill="#000" fill-opacity="0.3" filter="url(#blur)"/>
<rect x="125" y="271.8" width="8.300000000000011" height="5.0" rx="1.5" fill="#fff" fill-opacity="0.78" filter="url(#blur)"/>
<circle cx="127.905" cy="273.2" r="0.75" fill="#000" fill-opacity="0.3" filter="url(#blur)"/>
<circle cx="130.644" cy="273.2" r="0.75" fill="#000" fill-opacity="0.3" filter="url(#blur)"/>
<rect x="134.8" y="249.0" width="8.199999999999989" height="5.0" rx="1.5" fill="#fff" fill-opacity="0.8" filter="url(#blur)"/>
<circle cx="137.67000000000002" cy="250.4" r="0.75" fill="#000" fill-opacity="0.3" filter="url(#blur)"/>
<circle cx="140.376" cy="250.4" r="0.75" fill="#000" fill-opacity="0.3" filter="url(#blur)"/>
<rect x="145.3" y="259.4" width="8.299999999999983" height="5.0" rx="1.5" fill="#fff" fill-opacity="0.8" filter="url(#blur)"/>
<circle cx="148.205" cy="260.79999999999995" r="0.75" fill="#000" fill-opacity="0.3" filter="url(#blur)"/>
<circle cx="150.944" cy="260.79999999999995" r="0.75" fill="#000" fill-opacity="0.3" filter="url(#blur)"/>
<rect x="156" y="269.1" width="8.199999999999989" height="5.0" rx="1.5" fill="#fff" fill-opacity="0.8" filter="url(#blur)"/>
<circle cx="158.87" cy="270.5" r="0.75" fill="#000" fill-opacity="0.3" filter="url(#blur)"/>
<circle cx="161.576" cy="270.5" r="0.75" fill="#000" fill-opacity="0.3" filter="url(#blur)"/>
<rect x="165.7" y="239.7" width="8.200000000000017" height="5.0" rx="1.5" fill="#fff" fill-opacity="0.8" filter="url(#blur)"/>
<circle cx="168.57" cy="241.1" r="0.75" fill="#000" fill-opacity="0.3" filter="url(#blur)"/>
<circle cx="171.276" cy="241.1" r="0.75" fill="#000" fill-opacity="0.3" filter="url(#blur)"/>
<rect x="176.3" y="244.3" width="8.199999999999989" height="5.0" rx="1.5" fill="#fff" fill-opacity="0.78" filter="url(#blur)"/>
<circle cx="179.17000000000002" cy="245.70000000000002" r="0.75" fill="#000" fill-opacity="0.3" filter="url(#blur)"/>
<circle cx="181.876" cy="245.70000000000002" r="0.75" fill="#000" fill-opacity="0.3" filter="url(#blur)"/>
<rect x="186.3" y="249.5" width="8.299999999999983" height="5.0" rx="1.5" fill="#fff" fill-opacity="0.78" filter="url(#blur)"/>
<circle cx="189.205" cy="250.9" r="0.75" fill="#000" fill-opacity="0.3" filter="url(#blur)"/>
<circle cx="191.944" cy="250.9" r="0.75" fill="#000" fill-opacity="0.3" filter="url(#blur)"/>
<rect x="196.4" y="238.8" width="8.400000000000006" height="5.0" rx="1.5" fill="#fff" fill-opacity="0.8" filter="url(#blur)"/>
<circle cx="199.34" cy="240.20000000000002" r="0.75" fill="#000" fill-opacity="0.3" filter="url(#blur)"/>
<circle cx="202.11200000000002" cy="240.20000000000002" r="0.75" fill="#000" fill-opacity="0.3" filter="url(#blur)"/>
<rect x="207" y="243.5" width="9" height="5.0" rx="1.5" fill="#fff" fill-opacity="0.75" filter="url(#blur)"/>
<circle cx="210.15" cy="244.9" r="0.75" fill="#000" fill-opacity="0.3" filter="url(#blur)"/>
<circle cx="213.12" cy="244.9" r="0.75" fill="#000" fill-opacity="0.3" filter="url(#blur)"/>
<rect x="218" y="239.4" width="8" height="5.0" rx="1.5" fill="#fff" fill-opacity="0.78" filter="url(#blur)"/>
<circle cx="220.8" cy="240.8" r="0.75" fill="#000" fill-opacity="0.3" filter="url(#blur)"/>
<circle cx="223.44" cy="240.8" r="0.75" fill="#000" fill-opacity="0.3" filter="url(#blur)"/>
<rect x="228.2" y="241.0" width="8.300000000000011" height="5.0" rx="1.5" fill="#fff" fill-opacity="0.78" filter="url(#blur)"/>
<circle cx="231.105" cy="242.4" r="0.75" fill="#000" fill-opacity="0.3" filter="url(#blur)"/>
<circle cx="233.844" cy="242.4" r="0.75" fill="#000" fill-opacity="0.3" filter="url(#blur)"/>
<rect x="239" y="251.5" width="8.300000000000011" height="5.0" rx="1.5" fill="#fff" fill-opacity="0.78" filter="url(#blur)"/>
<circle cx="241.905" cy="252.9" r="0.75" fill="#000" fill-opacity="0.3" filter="url(#blur)"/>
<circle cx="244.644" cy="252.9" r="0.75" fill="#000" fill-opacity="0.3" filter="url(#blur)"/>
<rect x="249.7" y="247.3" width="8.300000000000011" height="5.0" rx="1.5" fill="#fff" fill-opacity="0.7" filter="url(#blur)"/>
<circle cx="252.605" cy="248.70000000000002" r="0.75" fill="#000" fill-opacity="0.3" filter="url(#blur)"/>
<circle cx="255.344" cy="248.70000000000002" r="0.75" fill="#000" fill-opacity="0.3" filter="url(#blur)"/>
<rect x="115.2" y="295.4" width="9" height="8.6" rx="2" fill="#fff" fill-opacity="0.78" filter="url(#blur)"/>
<ellipse cx="78" cy="309" rx="3.6" ry="7.3" fill="#fff" fill-opacity="0.33" filter="url(#blur2)"/>
<ellipse cx="99.4" cy="308" rx="1.6" ry="2" fill="#fff" fill-opacity="0.2" filter="url(#blur2)"/>
<ellipse cx="119.6" cy="310" rx="4.0" ry="6.5" fill="#fff" fill-opacity="0.28" filter="url(#blur2)"/>
<ellipse cx="130.3" cy="309.3" rx="3.9" ry="6.0" fill="#fff" fill-opacity="0.27" filter="url(#blur2)"/>
<ellipse cx="171" cy="307.7" rx="3.6" ry="5.8" fill="#fff" fill-opacity="0.3" filter="url(#blur2)"/>
<ellipse cx="181.2" cy="307.5" rx="4.4" ry="8.6" fill="#fff" fill-opacity="0.55" filter="url(#blur2)"/>
<ellipse cx="201.8" cy="308" rx="1.5" ry="2" fill="#fff" fill-opacity="0.2" filter="url(#blur2)"/>
<ellipse cx="121" cy="325" rx="1.5" ry="1" fill="#fff" fill-opacity="0.15" filter="url(#blur2)"/>
<ellipse cx="144" cy="324" rx="2" ry="1" fill="#fff" fill-opacity="0.15" filter="url(#blur2)"/>
</svg>
</body></html>
